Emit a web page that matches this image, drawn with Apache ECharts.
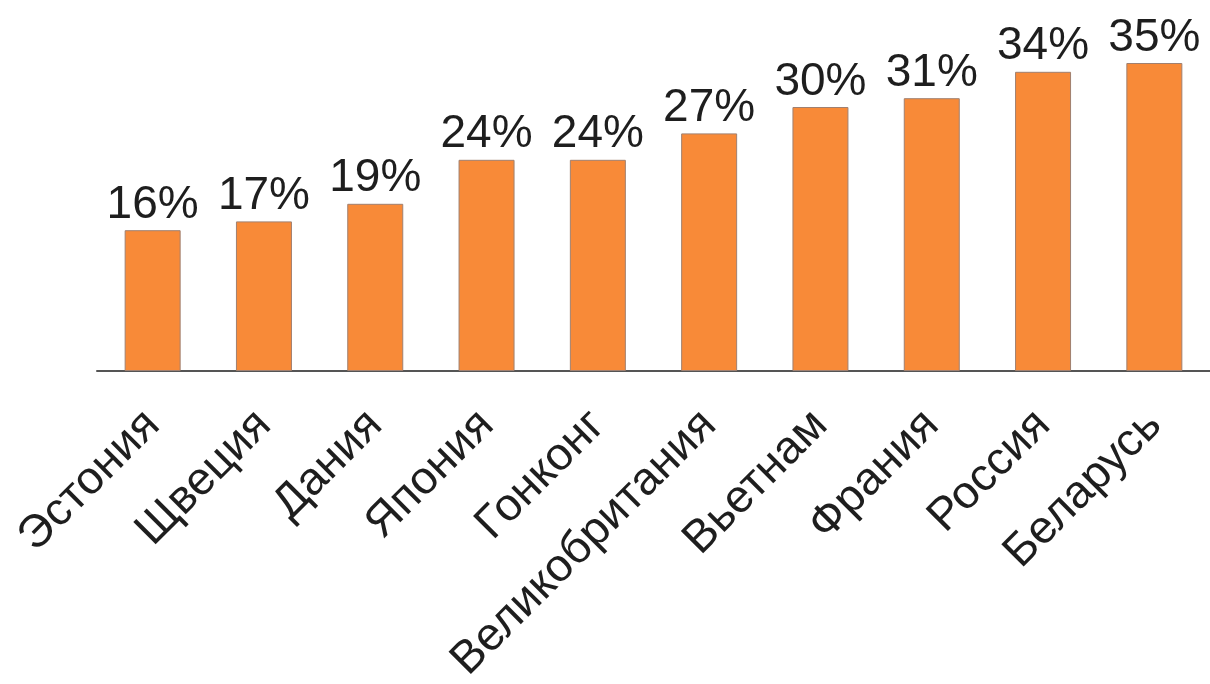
<!DOCTYPE html>
<html>
<head>
<meta charset="utf-8">
<script src="https://cdn.jsdelivr.net/npm/echarts@6/dist/echarts.min.js"></script>
<style>
  html, body { margin: 0; padding: 0; background: #fff; }
  #chart { width: 1210px; height: 684px; }
</style>
</head>
<body>
<div id="chart"></div>
<script>
// countries, sorted as in the picture
const countries = ['Эстония', 'Щвеция', 'Дания', 'Япония', 'Гонконг', 'Великобритания', 'Вьетнам', 'Франия', 'Россия', 'Беларусь'];
const shares = [16, 17, 19, 24, 24, 27, 30, 31, 34, 35];

const chart = echarts.init(document.getElementById('chart'));

chart.setOption({
  animation: false,
  textStyle: { fontFamily: 'Liberation Sans, Arial, sans-serif' },
  grid: { left: 97, right: 0, top: 19, bottom: 313, outerBoundsMode: 'none', containLabel: false },
  xAxis: {
    type: 'category',
    data: countries,
    axisLine: { lineStyle: { color: '#555', width: 2 } },
    axisTick: { show: false },
    axisLabel: {
      rotate: 45,
      interval: 0,
      margin: 47,
      fontSize: 46,
      color: '#1e1e1e'
    }
  },
  yAxis: {
    type: 'value',
    min: 0,
    max: 40,
    show: false
  },
  series: [{
    type: 'bar',
    data: shares,
    barWidth: 56,
    itemStyle: { color: '#F88A38', borderColor: '#a08070', borderWidth: 1 },
    label: {
      show: true,
      position: 'top',
      distance: 2,
      fontSize: 46,
      color: '#1e1e1e',
      formatter: (p) => p.value + '%'
    }
  }]
});
</script>
</body>
</html>
